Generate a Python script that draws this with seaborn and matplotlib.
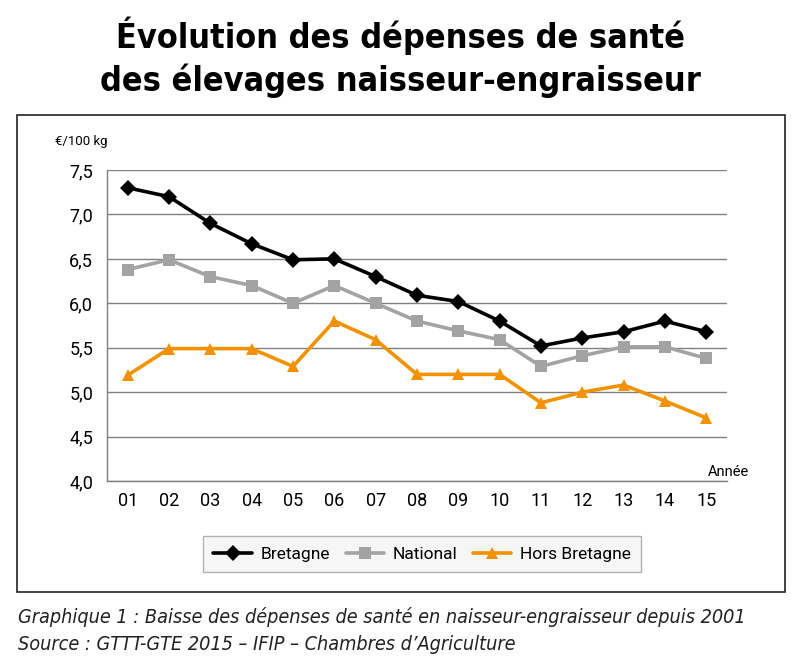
import matplotlib
matplotlib.use("Agg")
import matplotlib.pyplot as plt
import seaborn as sns
import pandas as pd
import numpy as np
from matplotlib.patches import Rectangle

# --- Data (€/100 kg) ---
years = ["01", "02", "03", "04", "05", "06", "07", "08", "09", "10", "11", "12", "13", "14", "15"]
bretagne = [7.30, 7.20, 6.90, 6.67, 6.49, 6.50, 6.30, 6.09, 6.02, 5.80, 5.52, 5.61, 5.68, 5.80, 5.68]
national = [6.38, 6.49, 6.30, 6.20, 6.00, 6.20, 6.00, 5.80, 5.69, 5.59, 5.29, 5.41, 5.51, 5.51, 5.38]
hors_bretagne = [5.19, 5.49, 5.49, 5.49, 5.29, 5.80, 5.59, 5.20, 5.20, 5.20, 4.88, 5.00, 5.08, 4.90, 4.71]
series_names = ["Bretagne", "National", "Hors Bretagne"]
yticks = [4.0, 4.5, 5.0, 5.5, 6.0, 6.5, 7.0, 7.5]

COLORS = {"Bretagne": "#000000", "National": "#a3a3a3", "Hors Bretagne": "#f39200"}
MARKERS = {"Bretagne": "D", "National": "s", "Hors Bretagne": "^"}

rows = []
for name, vals in zip(series_names, [bretagne, national, hors_bretagne]):
    for i, (yr, v) in enumerate(zip(years, vals)):
        rows.append({"pos": i, "annee": yr, "valeur": v, "serie": name})
df = pd.DataFrame(rows)

sns.set_style("white")
plt.rcParams["font.family"] = ["DejaVu Sans"]
plt.rcParams["text.color"] = "black"
BODY = ["Roboto", "DejaVu Sans"]

fig = plt.figure(figsize=(8, 6.6), dpi=100)
ax = fig.add_axes([0.13375, 0.2712, 0.775, 0.4712])

# outer frame around chart + legend
fig.patches.append(Rectangle((0.021, 0.103), 0.960, 0.723, transform=fig.transFigure,
                             fill=False, edgecolor="#222222", linewidth=1.2, zorder=0))

sns.lineplot(data=df, x="pos", y="valeur", hue="serie", style="serie",
             hue_order=series_names, style_order=series_names,
             palette=COLORS, markers=MARKERS, dashes=False,
             linewidth=2.6, markersize=8.5, markeredgewidth=0, ax=ax)

ax.set_xlim(-0.5, len(years) - 0.5)
ax.set_ylim(yticks[0], yticks[-1])
ax.set_yticks(yticks)
ax.set_yticklabels([f"{v:.1f}".replace(".", ",") for v in yticks], family=BODY, fontsize=13,
                   color="black")
ax.yaxis.grid(True, color="#808080", linewidth=1)
ax.set_axisbelow(True)

# category axis: labels centred, tick marks at the boundaries
ax.set_xticks(np.arange(len(years)))
ax.set_xticklabels(years, family=BODY, fontsize=13, color="black")
ax.set_xticks(np.arange(len(years) + 1) - 0.5, minor=True)
ax.tick_params(axis="x", which="major", length=0, pad=8)
ax.tick_params(axis="x", which="minor", length=9, width=1, color="#808080", direction="out")
ax.tick_params(axis="y", length=7, width=1, color="#808080", direction="out", pad=3)

for side in ["top", "right"]:
    ax.spines[side].set_visible(False)
for side in ["left", "bottom"]:
    ax.spines[side].set_color("#808080")
    ax.spines[side].set_linewidth(1)

ax.set_xlabel("")
ax.set_ylabel("")

fig.text(0.069, 0.785, "€/100 kg", family=BODY, fontsize=9.5, va="center", ha="left")
fig.text(0.936, 0.285, "Année", family=BODY, fontsize=10.5, va="center", ha="right")

handles, labels = ax.get_legend_handles_labels()
ax.get_legend().remove()
leg = ax.legend(handles, labels, loc="center", bbox_to_anchor=(0.5275, 0.1606),
                bbox_transform=fig.transFigure, ncol=3, frameon=True, fancybox=False,
                facecolor="#f4f4f4", edgecolor="#a0a0a0", handlelength=2.2,
                columnspacing=0.9, handletextpad=0.5, borderpad=0.6,
                prop={"family": BODY, "size": 12.5})
leg.get_frame().set_linewidth(1)

fig.text(0.5, 0.913, "Évolution des dépenses de santé\ndes élevages naisseur-engraisseur",
         family="DejaVu Sans", fontstretch="condensed", fontweight="bold", fontsize=24.5,
         ha="center", va="center", linespacing=1.3)

fig.text(0.022, 0.065, "Graphique 1 : Baisse des dépenses de santé en naisseur-engraisseur depuis 2001",
         family="DejaVu Sans", fontstretch="condensed", style="italic", fontsize=14.2,
         ha="left", va="center", color="#222222")
fig.text(0.022, 0.023, "Source : GTTT-GTE 2015 – IFIP – Chambres d’Agriculture",
         family="DejaVu Sans", fontstretch="condensed", style="italic", fontsize=14.2,
         ha="left", va="center", color="#222222")

fig.savefig("out.png", dpi=100, facecolor="white")
